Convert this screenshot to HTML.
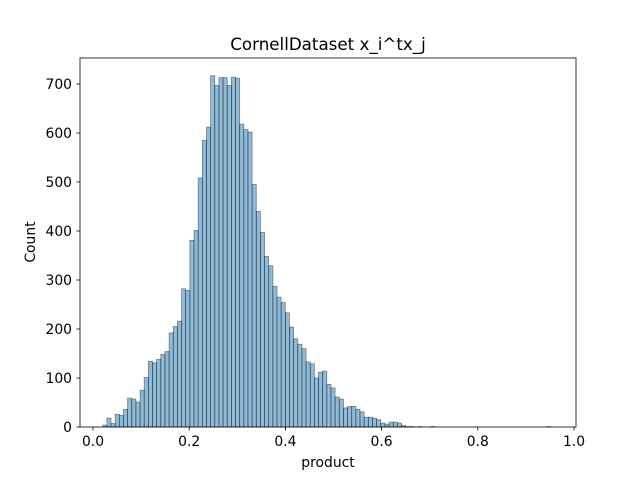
<!DOCTYPE html>
<html><head><meta charset="utf-8"><style>
body{margin:0;background:#fff;}
svg{display:block;font-family:"DejaVu Sans","Liberation Sans",sans-serif;}
</style></head><body>
<svg id="chart" width="640" height="480" viewBox="0 0 640 480">
<rect width="640" height="480" fill="#fff"/>
<text x="328" y="50" font-size="16.7" text-anchor="middle">CornellDataset x_i^tx_j</text>
<g id="bars"></g>
<g id="axes"></g>
<rect x="80" y="58" width="496" height="369" fill="none" stroke="#000" stroke-width="0.8"/>
<text x="328" y="467" font-size="13.9" text-anchor="middle">product</text>
<text x="35" y="242" font-size="13.9" text-anchor="middle" transform="rotate(-90 35 242)">Count</text>
</svg>
<script>
const binStart = 0.0202;
const binWidth = 0.008628;
const counts = [4,18,7,26,24,36,59,57,51,75,101,134,131,138,148,154,192,205,216,282,279,381,401,508,585,612,
717,697,713,713,697,714,712,618,607,602,495,440,397,348,329,287,265,254,233,204,180,169,160,133,129,100,
112,114,87,80,61,57,39,42,42,36,31,20,20,18,15,8,6,10,10,8,3,1,1,0,1,0,0,1,
0,0,0,0,0,0,0,0,0,0,0,0,0,0,0,0,0,0,0,0,0,0,0,0,0,0,0,1];
const xTicks = [0.0,0.2,0.4,0.6,0.8,1.0];
const xTickLabels = ["0.0","0.2","0.4","0.6","0.8","1.0"];
const yTicks = [0,100,200,300,400,500,600,700];
const yTickLabels = ["0","100","200","300","400","500","600","700"];

const NS="http://www.w3.org/2000/svg";
function xScale(v){return 93+v*481;}
function yScale(v){return 427-v*0.49;}
const bars=document.getElementById('bars');
counts.forEach((c,i)=>{
  if(c<=0) return;
  const x0=xScale(binStart+i*binWidth), x1=xScale(binStart+(i+1)*binWidth);
  const r=document.createElementNS(NS,'rect');
  r.setAttribute('x',x0);r.setAttribute('y',yScale(c));
  r.setAttribute('width',x1-x0);r.setAttribute('height',yScale(0)-yScale(c));
  r.setAttribute('fill','rgba(31,119,180,0.5)');
  r.setAttribute('stroke','rgba(0,0,0,0.45)');r.setAttribute('stroke-width','0.75');
  
  
  bars.appendChild(r);
});
const axes=document.getElementById('axes');
xTicks.forEach((t,i)=>{
  const x=xScale(t);
  const l=document.createElementNS(NS,'line');
  l.setAttribute('x1',x);l.setAttribute('x2',x);l.setAttribute('y1',427);l.setAttribute('y2',430.5);
  l.setAttribute('stroke','#000');l.setAttribute('stroke-width','0.8');
  
  
  axes.appendChild(l);
  const tx=document.createElementNS(NS,'text');
  tx.setAttribute('x',x);tx.setAttribute('y',446);tx.setAttribute('font-size','13.9');
  tx.setAttribute('text-anchor','middle');tx.textContent=xTickLabels[i];
  
  
  axes.appendChild(tx);
});
yTicks.forEach((t,i)=>{
  const y=yScale(t);
  const l=document.createElementNS(NS,'line');
  l.setAttribute('x1',76.5);l.setAttribute('x2',80);l.setAttribute('y1',y);l.setAttribute('y2',y);
  l.setAttribute('stroke','#000');l.setAttribute('stroke-width','0.8');
  
  
  axes.appendChild(l);
  const tx=document.createElementNS(NS,'text');
  tx.setAttribute('x',72);tx.setAttribute('y',y+5);tx.setAttribute('font-size','13.9');
  tx.setAttribute('text-anchor','end');tx.textContent=yTickLabels[i];
  
  
  axes.appendChild(tx);
});
</script>
</body></html>
